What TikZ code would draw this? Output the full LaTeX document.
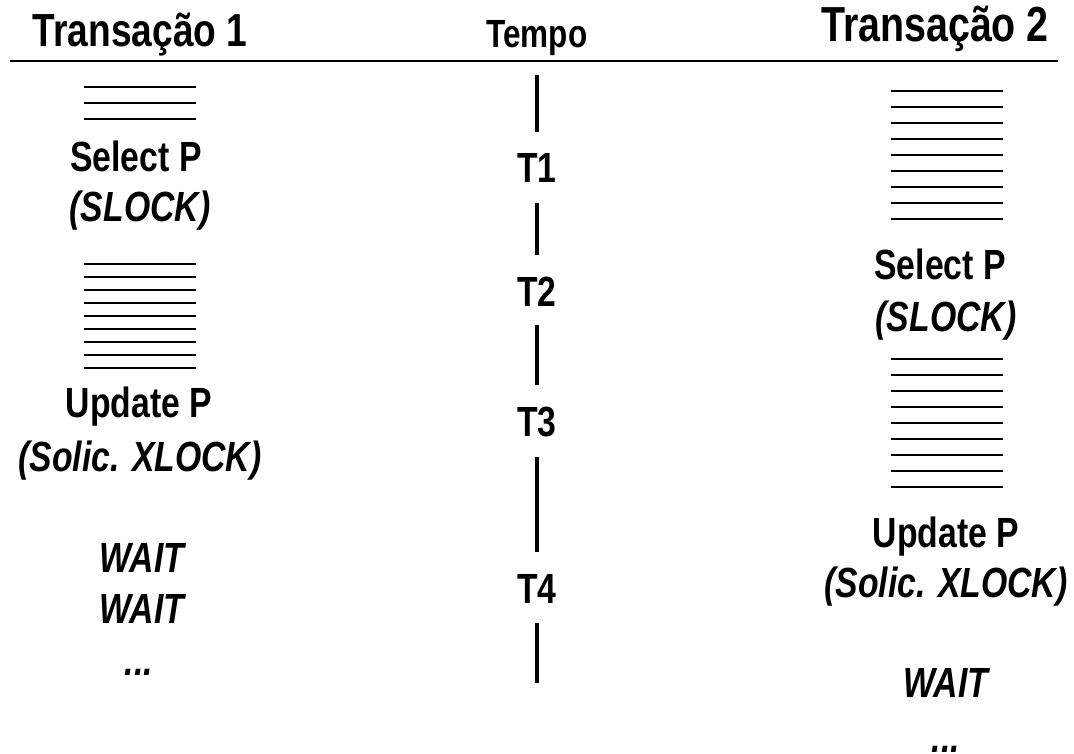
\documentclass[tikz,border=0pt]{standalone}
\usepackage{fontspec}
\setmainfont{Liberation Sans}[FakeStretch=0.8]
\usetikzlibrary{positioning}

\begin{document}
\begin{tikzpicture}[x=0.025cm, y=-0.025cm,
    title/.style={font=\fontsize{33}{36}\selectfont\bfseries, anchor=base, inner sep=0pt},
    lbl/.style={font=\fontsize{30}{36}\selectfont\bfseries, anchor=base, inner sep=0pt},
    ilbl/.style={font=\fontsize{30}{36}\selectfont\bfseries\itshape, anchor=base, inner sep=0pt},
    stmt/.style={line width=1.5pt},
    tick/.style={line width=3.2pt}]
    \useasboundingbox (0,0) rectangle (1074,754);

    % Cabecalho
    \node[title] (trans1) at (140,47) {Transação 1};
    \node[lbl, font=\fontsize{28}{32}\selectfont\bfseries] (tempo) at (537,48) {Tempo};
    \node[title, font=\fontsize{35}{38}\selectfont\bfseries] (trans2) at (935,42) {Transação 2};
    \draw[line width=2pt] (10,61) -- (1058,61);

    % Transacao 1
    \foreach \y in {87,103,119} \draw[stmt] (84,\y) -- (196,\y);
    \node[lbl] (sel1) at (136,172) {Select P};
    \node[ilbl] (slock1) at (140,222) {(SLOCK)};
    \foreach \i in {0,...,8} \draw[stmt] (84,264+13*\i) -- (196,264+13*\i);
    \node[lbl] (upd1) at (139,418) {Update P};
    \node[ilbl] (xlock1) at (140,472) {(Solic. XLOCK)};
    \node[ilbl] (wait1a) at (142,572) {WAIT};
    \node[ilbl] (wait1b) at (142,623) {WAIT};
    \node[ilbl] (dots1) at (139,675) {...};

    % Tempo
    \draw[tick] (537,75) -- (537,132);
    \node[lbl] (tm1) at (537,183) {T1};
    \draw[tick] (537,203) -- (537,255);
    \node[lbl] (tm2) at (537,307) {T2};
    \draw[tick] (537,325) -- (537,385);
    \node[lbl] (tm3) at (537,437) {T3};
    \draw[tick] (537,457) -- (537,552);
    \node[lbl] (tm4) at (537,603) {T4};
    \draw[tick] (537,623) -- (537,683);

    % Transacao 2
    \foreach \i in {0,...,8} \draw[stmt] (891,91+16*\i) -- (1003,91+16*\i);
    \node[lbl] (sel2) at (940,280) {Select P};
    \node[ilbl] (slock2) at (946,332) {(SLOCK)};
    \foreach \i in {0,...,8} \draw[stmt] (891,359+16*\i) -- (1003,359+16*\i);
    \node[lbl] (upd2) at (946,547) {Update P};
    \node[ilbl] (xlock2) at (946,597) {(Solic. XLOCK)};
    \node[ilbl] (wait2) at (946,697) {WAIT};
    \node[ilbl] (dots2) at (946,752) {...};
\end{tikzpicture}
\end{document}
